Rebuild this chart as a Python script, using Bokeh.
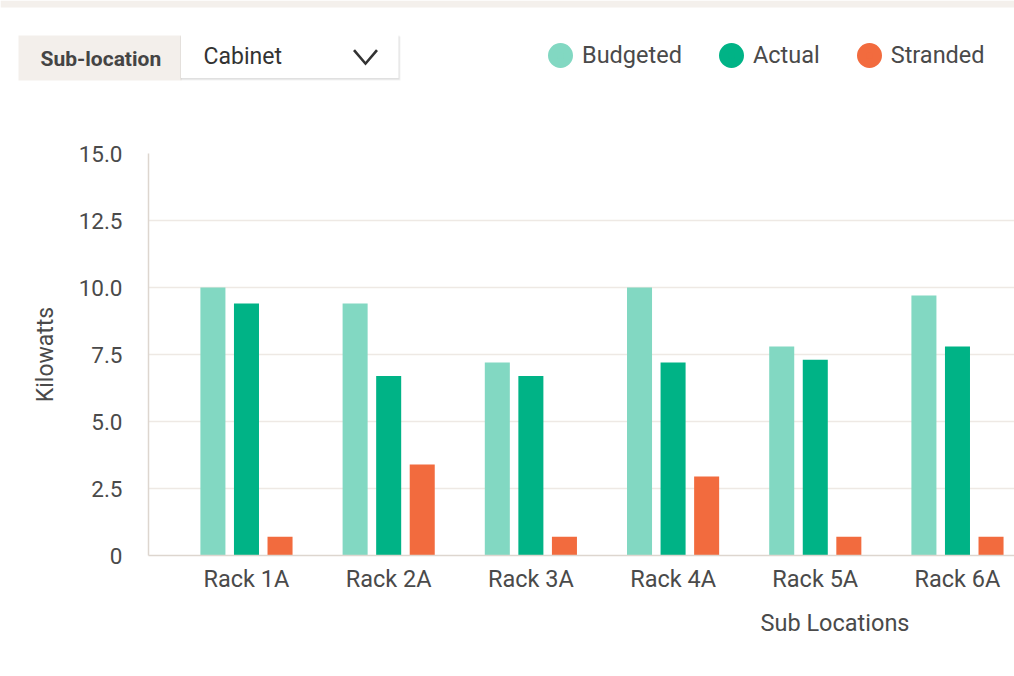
from bokeh.plotting import figure
from bokeh.layouts import column
from bokeh.models import (ColumnDataSource, Range1d, FixedTicker, Legend, LegendItem, Title)
from bokeh.core.properties import value
from bokeh.transform import dodge
from bokeh.embed import file_html
from bokeh.resources import INLINE

racks = ["Rack 1A", "Rack 2A", "Rack 3A", "Rack 4A", "Rack 5A", "Rack 6A"]
budgeted = [10.0, 9.4, 7.2, 10.0, 7.8, 9.7]
actual = [9.4, 6.7, 6.7, 7.2, 7.3, 7.8]
stranded = [0.7, 3.4, 0.7, 2.95, 0.7, 0.7]
series = ["Budgeted", "Actual", "Stranded"]
colors = ["#82d8c2", "#00b386", "#f26b3e"]
y_ticks = [0, 2.5, 5.0, 7.5, 10.0, 12.5, 15.0]
y_tick_labels = ["0", "2.5", "5.0", "7.5", "10.0", "12.5", "15.0"]
filter_label = "Sub-location"
filter_value = "Cabinet"
x_title = "Sub Locations"
y_title = "Kilowatts"

FONT = "Roboto"
TXT = "#4a4a4a"
W = 1014
HEAD_H = 100
MAIN_H = 572

# ---------------- header (filter control + legend) ----------------
h = figure(width=W, height=HEAD_H, output_backend="svg", toolbar_location=None,
           x_range=Range1d(0, W), y_range=Range1d(HEAD_H, 0),
           x_axis_location=None, y_axis_location=None,
           min_border=0, min_border_left=0, min_border_right=0,
           min_border_top=0, min_border_bottom=0)
h.outline_line_color = None
h.xgrid.visible = False
h.ygrid.visible = False
h.background_fill_color = "white"
h.border_fill_color = "white"

# top page strip
h.quad(left=[0], right=[W], top=[0], bottom=[7], fill_color="#f4f0ec", line_color=None)
# "Sub-location" tab
h.quad(left=[18], right=[181], top=[35], bottom=[80], fill_color="#f3efeb", line_color=None)
# dropdown shadow + box
h.quad(left=[180], right=[400], top=[36], bottom=[80], fill_color="#000000",
       fill_alpha=0.05, line_color=None)
h.quad(left=[180], right=[399], top=[35], bottom=[79], fill_color="#000000",
       fill_alpha=0.07, line_color=None)
h.quad(left=[180.5], right=[398], top=[34.5], bottom=[77.5], fill_color="white",
       line_color=None)
h.text(x=[40], y=[58], text=[filter_label], text_font=value(FONT), text_font_size="21px",
       text_font_style="bold", text_color="#444444", text_baseline="middle")
h.text(x=[203], y=[56], text=[filter_value], text_font=value(FONT), text_font_size="23px",
       text_font_style="normal", text_color="#333333", text_baseline="middle")
# chevron
h.patch(x=[352.5, 365, 377.5, 375.5, 365, 354.5], y=[50.5, 65, 50.5, 48.8, 61.2, 48.8],
        fill_color="#333333", line_color=None)

# legend with circle markers (hidden proxy renderers)
items = []
for s, c in zip(series, colors):
    r = h.scatter(x=[float("nan")], y=[float("nan")], marker="circle", fill_color=c,
                  line_color=c, line_width=9)
    items.append(LegendItem(label=s, renderers=[r]))
legend = Legend(items=items, orientation="horizontal", location=(540, 25),
                glyph_width=40, glyph_height=40, label_standoff=2, spacing=29,
                padding=0, margin=0, border_line_color=None,
                background_fill_alpha=0, label_text_font=FONT,
                label_text_font_size="23.5px", label_text_color=TXT)
h.add_layout(legend, "center")

# ---------------- main chart ----------------
src = ColumnDataSource(dict(idx=list(range(len(racks))), Budgeted=budgeted,
                            Actual=actual, Stranded=stranded))

p = figure(width=W, height=MAIN_H, output_backend="svg", toolbar_location=None,
           x_range=Range1d(-0.689, 5.401), y_range=Range1d(0, 15),
           min_border_left=148, min_border_top=53, min_border_bottom=117,
           min_border_right=0)
p.outline_line_color = None
p.background_fill_color = "white"
p.border_fill_color = "white"

for fig in (h, p):
    try:
        fig.frame_align = False
    except Exception:
        pass

offsets = [-0.236, 0.0, 0.236]
for s, c, off in zip(series, colors, offsets):
    p.vbar(x=dodge("idx", off, range=p.x_range), top=s, width=0.176, source=src,
           fill_color=c, line_color=None)

p.xgrid.grid_line_color = None
p.ygrid.grid_line_color = "#eee9e4"
p.ygrid.grid_line_width = 1.5

xa = p.xaxis[0]
xa.ticker = FixedTicker(ticks=list(range(len(racks))))
xa.major_label_overrides = {i: r for i, r in enumerate(racks)}
xa.major_tick_line_color = None
xa.minor_tick_line_color = None
xa.axis_line_color = "#ddd6cf"
xa.axis_line_width = 1.5
xa.major_label_standoff = 3
xa.major_label_text_font = FONT
xa.major_label_text_font_size = "23.5px"
xa.major_label_text_color = TXT

ya = p.yaxis[0]
ya.ticker = FixedTicker(ticks=y_ticks)
ya.major_label_overrides = {t: l for t, l in zip(y_ticks, y_tick_labels)}
ya.major_tick_line_color = None
ya.minor_tick_line_color = None
ya.axis_line_color = "#ddd6cf"
ya.axis_line_width = 1.5
ya.major_label_standoff = 20
ya.major_label_text_font = FONT
ya.major_label_text_font_size = "22.5px"
ya.major_label_text_color = TXT
ya.axis_label = y_title
ya.axis_label_text_font = FONT
ya.axis_label_text_font_size = "23px"
ya.axis_label_text_font_style = "normal"
ya.axis_label_text_color = TXT
ya.axis_label_standoff = 17

p.add_layout(Title(text=x_title, align="left", offset=612, standoff=23,
                   text_font=FONT, text_font_size="23.5px", text_font_style="normal",
                   text_color=TXT), "below")

layout = column(h, p, spacing=0)
open("out.html", "w").write(file_html(layout, INLINE))
